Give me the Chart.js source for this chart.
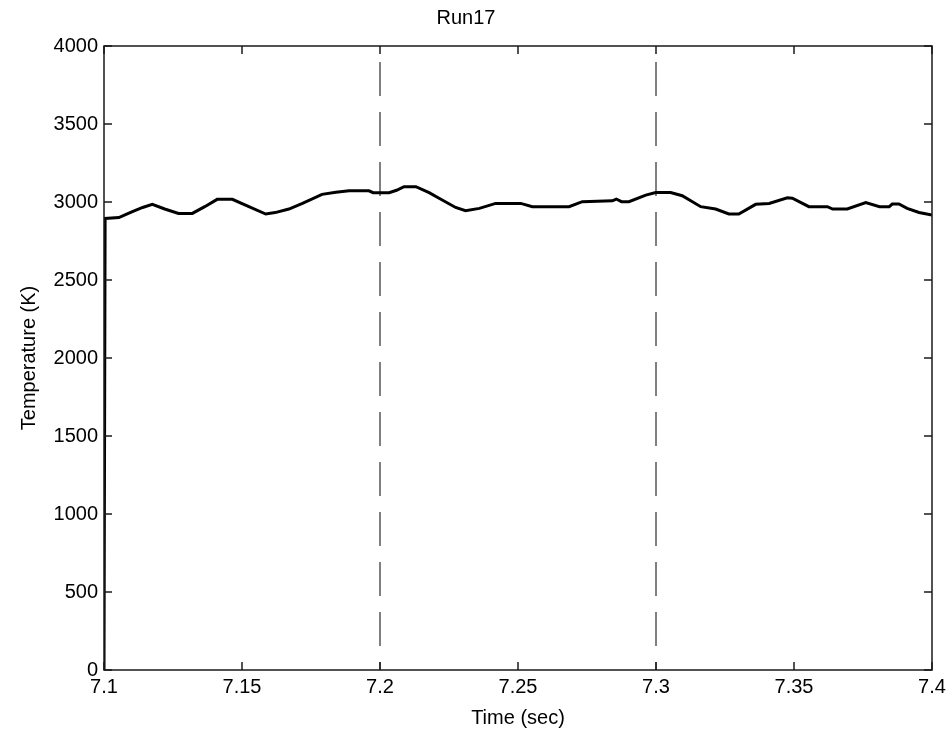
<!DOCTYPE html>
<html>
<head>
<meta charset="utf-8">
<title>Run17</title>
<script src="https://cdn.jsdelivr.net/npm/chart.js@4"></script>
<style>
  body { margin: 0; background: #fff; }
  #wrap { width: 952px; height: 731px; }
</style>
</head>
<body>
<div id="wrap"><canvas id="tempChart" width="952" height="731"></canvas></div>
<script>
// sampled trace of temperature vs. time
const timeSec = [
  7.1000, 7.1004, 7.1054, 7.1080, 7.1103, 7.1140, 7.1175, 7.1220, 7.1270, 7.1320,
  7.1365, 7.1410, 7.1465, 7.1525, 7.1586, 7.1620, 7.1670, 7.1719, 7.1790, 7.1840,
  7.1888, 7.1960, 7.1975, 7.2033, 7.2060, 7.2087, 7.2130, 7.2178, 7.2214, 7.2274,
  7.2310, 7.2360, 7.2419, 7.2510, 7.2552, 7.2685, 7.2733, 7.2842, 7.2856, 7.2875,
  7.2902, 7.2963, 7.2999, 7.3053, 7.3095, 7.3162, 7.3216, 7.3264, 7.3300, 7.3361,
  7.3410, 7.3476, 7.3494, 7.3554, 7.3621, 7.3640, 7.3693, 7.3760, 7.3810, 7.3845,
  7.3856, 7.3880, 7.3910, 7.3953, 7.4000
];
const tempK = [
  0, 2895, 2900, 2920, 2938, 2965, 2985, 2955, 2927, 2927,
  2970, 3017, 3017, 2970, 2923, 2932, 2955, 2991, 3049, 3062,
  3072, 3072, 3060, 3060, 3075, 3098, 3098, 3060, 3024, 2965,
  2944, 2959, 2991, 2991, 2970, 2970, 3002, 3008, 3019, 3002,
  3002, 3044, 3061, 3061, 3040, 2970, 2955, 2923, 2923, 2985,
  2991, 3027, 3024, 2970, 2970, 2955, 2955, 2996, 2970, 2970,
  2987, 2987, 2959, 2933, 2917
];

// dashed reference lines
const markerTimes = [7.2, 7.3];

const timeTicks = [7.1, 7.15, 7.2, 7.25, 7.3, 7.35, 7.4];
const tempTicks = [0, 500, 1000, 1500, 2000, 2500, 3000, 3500, 4000];

const FONT = { family: '"Liberation Sans", Arial, Helvetica, sans-serif', size: 20 };
const TICK_LEN = 8;

// axes box with inward ticks on all four sides
const frame = {
  id: 'frame',
  afterDatasetsDraw(chart) {
    const { ctx, chartArea: a, scales: { x, y } } = chart;
    ctx.save();
    ctx.strokeStyle = '#1a1a1a';
    ctx.lineWidth = 1.5;
    ctx.strokeRect(a.left, a.top, a.right - a.left, a.bottom - a.top);
    ctx.beginPath();
    x.ticks.forEach(t => {
      const px = x.getPixelForValue(t.value);
      ctx.moveTo(px, a.bottom); ctx.lineTo(px, a.bottom - TICK_LEN);
      ctx.moveTo(px, a.top); ctx.lineTo(px, a.top + TICK_LEN);
    });
    y.ticks.forEach(t => {
      const py = y.getPixelForValue(t.value);
      ctx.moveTo(a.left, py); ctx.lineTo(a.left + TICK_LEN, py);
      ctx.moveTo(a.right, py); ctx.lineTo(a.right - TICK_LEN, py);
    });
    ctx.stroke();
    ctx.restore();
  }
};

const datasets = [{
  data: timeSec.map((t, i) => ({ x: t, y: tempK[i] })),
  borderColor: '#000',
  borderWidth: 3,
  pointRadius: 0,
  showLine: true,
  tension: 0
}];
markerTimes.forEach(t => {
  datasets.push({
    data: [{ x: t, y: tempTicks[tempTicks.length - 1] }, { x: t, y: tempTicks[0] }],
    borderColor: '#000',
    borderWidth: 1,
    borderDash: [34, 16],
    borderDashOffset: 34,
    pointRadius: 0,
    showLine: true
  });
});

new Chart(document.getElementById('tempChart'), {
  type: 'scatter',
  data: { datasets },
  options: {
    responsive: false,
    animation: false,
    layout: { padding: { left: 0, right: 20, top: 0, bottom: 0 } },
    plugins: {
      legend: { display: false },
      tooltip: { enabled: false },
      title: {
        display: true,
        text: 'Run17',
        color: '#000',
        font: { ...FONT, weight: 'normal' },
        padding: { top: 6, bottom: 16 }
      }
    },
    scales: {
      x: {
        type: 'linear',
        min: 7.1,
        max: 7.4,
        afterBuildTicks: s => { s.ticks = timeTicks.map(v => ({ value: v })); },
        afterFit: s => { s.height = 61; },
        grid: { display: false, drawTicks: false },
        border: { display: false },
        ticks: {
          color: '#000',
          font: FONT,
          padding: 5,
          maxRotation: 0,
          autoSkip: false,
          callback: v => String(+v.toFixed(2))
        },
        title: {
          display: true,
          text: 'Time (sec)',
          color: '#000',
          font: FONT,
          padding: { top: 0, bottom: 1 }
        }
      },
      y: {
        min: 0,
        max: 4000,
        afterBuildTicks: s => { s.ticks = tempTicks.map(v => ({ value: v })); },
        afterFit: s => { s.width = 104; },
        grid: { display: false, drawTicks: false },
        border: { display: false },
        ticks: {
          color: '#000',
          font: FONT,
          padding: 6,
          autoSkip: false,
          callback: v => String(v)
        },
        title: {
          display: true,
          text: 'Temperature (K)',
          color: '#000',
          font: FONT,
          padding: { top: 17, bottom: 0 }
        }
      }
    }
  },
  plugins: [frame]
});
</script>
</body>
</html>
